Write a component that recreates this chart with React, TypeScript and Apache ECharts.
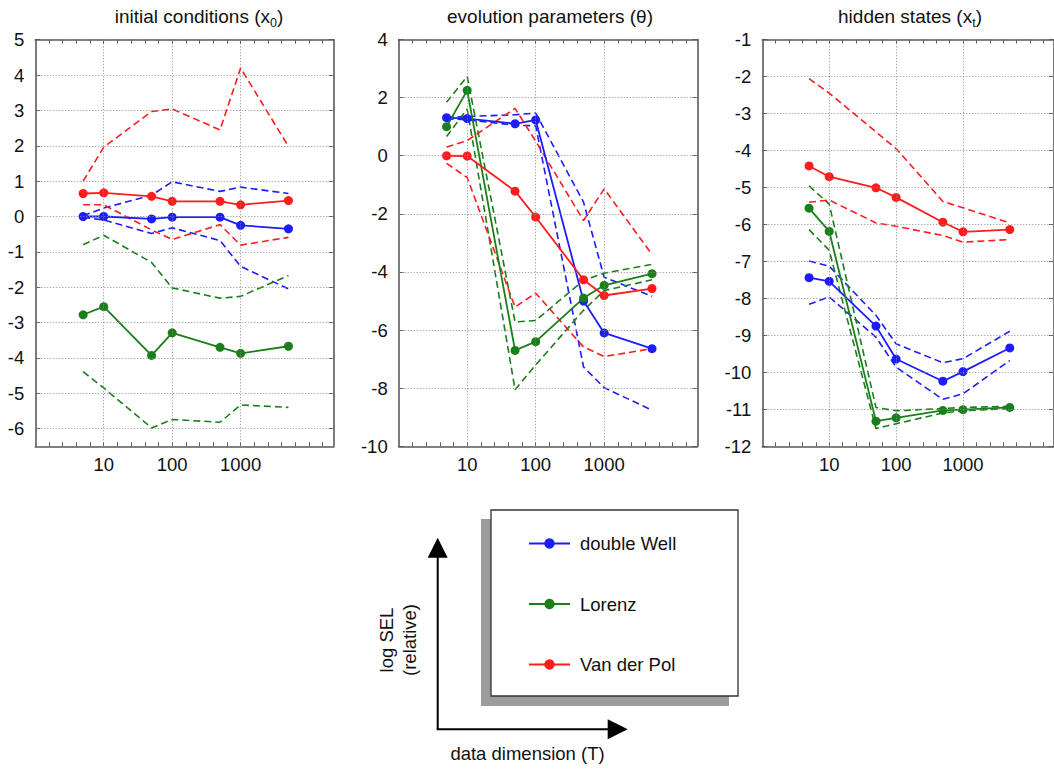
import React, { useEffect, useRef } from "react";
import * as echarts from "echarts";

// ---------- data ----------
const T = [5, 10, 50, 100, 500, 1000, 5000];

// panel 1: initial conditions (x0)
const x0DwMean = [0.0, 0.0, -0.07, -0.02, -0.02, -0.25, -0.35];
const x0DwHi = [0.02, 0.24, 0.6, 0.98, 0.71, 0.83, 0.65];
const x0DwLo = [-0.02, -0.1, -0.48, -0.32, -0.68, -1.41, -2.05];
const x0LzMean = [-2.78, -2.55, -3.93, -3.29, -3.7, -3.87, -3.67];
const x0LzHi = [-0.8, -0.53, -1.3, -2.02, -2.31, -2.26, -1.67];
const x0LzLo = [-4.39, -4.85, -5.98, -5.74, -5.82, -5.33, -5.4];
const x0VdpMean = [0.65, 0.67, 0.57, 0.43, 0.43, 0.33, 0.45];
const x0VdpHi = [1.0, 1.96, 2.97, 3.04, 2.45, 4.2, 1.98];
const x0VdpLo = [0.33, 0.33, -0.38, -0.65, -0.23, -0.81, -0.59];

// panel 2: evolution parameters (theta)
const thDwMean = [1.31, 1.28, 1.1, 1.23, -5.0, -6.1, -6.64];
const thDwHi = [1.33, 1.35, 1.41, 1.47, -1.6, -4.18, -4.84];
const thDwLo = [1.27, 1.24, 1.05, 1.03, -7.27, -7.98, -8.76];
const thLzMean = [1.0, 2.25, -6.7, -6.4, -4.9, -4.46, -4.06];
const thLzHi = [1.84, 2.73, -5.72, -5.67, -4.29, -4.04, -3.74];
const thLzLo = [0.66, 1.61, -8.05, -7.2, -5.32, -4.64, -4.27];
const thVdpMean = [0.0, -0.01, -1.22, -2.11, -4.27, -4.81, -4.57];
const thVdpHi = [0.3, 0.52, 1.63, 0.5, -2.23, -1.14, -3.4];
const thVdpLo = [-0.26, -0.75, -5.21, -4.73, -6.58, -6.91, -6.64];

// panel 3: hidden states (xt)
const xtDwMean = [-7.44, -7.54, -8.75, -9.64, -10.24, -9.98, -9.34];
const xtDwHi = [-6.99, -7.13, -8.46, -9.23, -9.74, -9.63, -8.89];
const xtDwLo = [-8.16, -7.96, -9.05, -9.86, -10.73, -10.58, -9.68];
const xtLzMean = [-5.56, -6.19, -11.32, -11.23, -11.03, -11.01, -10.95];
const xtLzHi = [-4.96, -5.45, -10.95, -11.04, -10.98, -10.95, -10.92];
const xtLzLo = [-6.14, -6.7, -11.52, -11.39, -11.1, -11.04, -10.98];
const xtVdpMean = [-4.42, -4.71, -5.01, -5.27, -5.94, -6.2, -6.14];
const xtVdpHi = [-2.06, -2.45, -3.5, -3.95, -5.38, -5.55, -5.96];
const xtVdpLo = [-5.4, -5.34, -5.96, -6.05, -6.3, -6.48, -6.41];

// axes
const xLabelVals = [1, 2, 3];
const xLabelText = ["10", "100", "1000"];
const xMinorTicks = [0.2, 0.4, 0.6, 0.8, 1, 1.2, 1.4, 1.6, 1.8, 2, 2.2, 2.4, 2.6, 2.8, 3, 3.2, 3.4, 3.6, 3.8, 4, 4.2];
const yTicks1 = [-6, -5, -4, -3, -2, -1, 0, 1, 2, 3, 4, 5];
const yTicks2 = [-10, -8, -6, -4, -2, 0, 2, 4];
const yTicks3 = [-12, -11, -10, -9, -8, -7, -6, -5, -4, -3, -2, -1];

const systems = ["double Well", "Lorenz", "Van der Pol"];
const colors = ["#1c1cff", "#1a7f1a", "#ff1c1c"];

const FONT = "'Liberation Sans', Arial, Helvetica, sans-serif";
const FRAME = "#5a5a5a";

export default function App() {
  const ref = useRef<HTMLDivElement>(null);

  useEffect(() => {
    if (!ref.current) return;
    const chart = echarts.init(ref.current, undefined, { renderer: "svg" });

    const X_MAX = 4.36;
    const panels = [
      {
        grid: { left: 35.3, top: 39.7, width: 298.4, height: 406.6 },
        ymin: -6.5, ymax: 5, yTicks: yTicks1,
        data: [[x0DwMean, x0DwHi, x0DwLo], [x0LzMean, x0LzHi, x0LzLo], [x0VdpMean, x0VdpHi, x0VdpLo]],
      },
      {
        grid: { left: 398.7, top: 39.5, width: 298.6, height: 406.8 },
        ymin: -10, ymax: 4, yTicks: yTicks2,
        data: [[thDwMean, thDwHi, thDwLo], [thLzMean, thLzHi, thLzLo], [thVdpMean, thVdpHi, thVdpLo]],
      },
      {
        grid: { left: 762.3, top: 39.5, width: 298.5, height: 406.8 },
        ymin: -12, ymax: -1, yTicks: yTicks3,
        data: [[xtDwMean, xtDwHi, xtDwLo], [xtLzMean, xtLzHi, xtLzLo], [xtVdpMean, xtVdpHi, xtVdpLo]],
      },
    ];

    const grids: any[] = [];
    const xAxes: any[] = [];
    const yAxes: any[] = [];
    const series: any[] = [];

    const axisLine = { show: true, onZero: false, lineStyle: { color: FRAME, width: 1.6 } };

    panels.forEach((p, i) => {
      grids.push({ ...p.grid, containLabel: false });
      xAxes.push({
        type: "value", gridIndex: i, min: 0, max: X_MAX, position: "bottom",
        axisLine,
        axisTick: { show: true, inside: true, length: 4, customValues: xMinorTicks, lineStyle: { color: FRAME, width: 1 } },
        axisLabel: {
          show: true, customValues: xLabelVals, margin: 9,
          fontSize: 18.5, fontFamily: FONT, color: "#111",
          formatter: (v: number) => { const k = xLabelVals.indexOf(v); return k >= 0 ? xLabelText[k] : ""; },
        },
        splitLine: { show: false },
      });
      xAxes.push({
        type: "value", gridIndex: i, min: 0, max: X_MAX, position: "top",
        axisLine,
        axisTick: { show: true, inside: true, length: 4, customValues: xMinorTicks, lineStyle: { color: FRAME, width: 1 } },
        axisLabel: { show: false },
        splitLine: { show: false },
      });
      yAxes.push({
        type: "value", gridIndex: i, min: p.ymin, max: p.ymax, position: "left",
        axisLine,
        axisTick: { show: true, inside: true, length: 5, customValues: p.yTicks, lineStyle: { color: FRAME, width: 1 } },
        axisLabel: { show: true, customValues: p.yTicks, margin: 11, fontSize: 18.5, fontFamily: FONT, color: "#111" },
        splitLine: { show: false },
      });
      yAxes.push({
        type: "value", gridIndex: i, min: p.ymin, max: p.ymax, position: "right",
        axisLine,
        axisTick: { show: true, inside: true, length: 5, customValues: p.yTicks, lineStyle: { color: FRAME, width: 1 } },
        axisLabel: { show: false },
        splitLine: { show: false },
      });

      const xi = 2 * i;
      const yi = 2 * i;

      series.push({
        type: "line", xAxisIndex: xi, yAxisIndex: yi, data: [], z: 1, silent: true,
        markLine: {
          silent: true, symbol: ["none", "none"], animation: false,
          label: { show: false },
          emphasis: { disabled: true },
          lineStyle: { color: "#8c8c8c", type: [1, 2], width: 1 },
          data: [
            ...xLabelVals.map((v) => ({ xAxis: v })),
            ...p.yTicks.filter((v) => v > p.ymin && v < p.ymax).map((v) => ({ yAxis: v })),
          ],
        },
      });

      p.data.forEach((set, s) => {
        const [mean, hi, lo] = set;
        const pts = (arr: number[]) => T.map((t, k) => [Math.log10(t), arr[k]]);
        [hi, lo].forEach((b, bi) => {
          series.push({
            type: "line", name: systems[s] + (bi === 0 ? " upper" : " lower"),
            xAxisIndex: xi, yAxisIndex: yi, data: pts(b), z: 2, silent: true,
            symbol: "none",
            lineStyle: { color: colors[s], width: 1.6, type: [7, 4] },
            itemStyle: { color: colors[s] },
          });
        });
        series.push({
          type: "line", name: systems[s],
          xAxisIndex: xi, yAxisIndex: yi, data: pts(mean), z: 3, silent: true,
          symbol: "circle", symbolSize: 9,
          lineStyle: { color: colors[s], width: 1.8 },
          itemStyle: { color: colors[s] },
        });
      });
    });

    const titleStyle = (text: string, x: number) => ({
      type: "text", x, y: 3, z: 10,
      style: {
        text, align: "center", verticalAlign: "top",
        rich: {
          a: { fontSize: 19, fontFamily: FONT, fill: "#111", lineHeight: 26 },
          s: { fontSize: 12.5, fontFamily: FONT, fill: "#111", lineHeight: 12, verticalAlign: "bottom" },
        },
      },
    });

    const option: any = {
      animation: false,
      grid: grids,
      xAxis: xAxes,
      yAxis: yAxes,
      series,
      legend: {
        orient: "vertical", left: 523, top: 529,
        itemWidth: 41, itemHeight: 13, itemGap: 41.5,
        selectedMode: false,
        data: systems,
        textStyle: { fontSize: 18.5, fontFamily: FONT, color: "#111", padding: [0, 0, 0, 5] },
      },
      graphic: [
        titleStyle("{a|initial conditions (x}{s|0}{a|)}", 199),
        titleStyle("{a|evolution parameters (θ)}", 550),
        titleStyle("{a|hidden states (x}{s|t}{a|)}", 910),
        { type: "rect", z: 0, shape: { x: 481, y: 519, width: 248, height: 187 }, style: { fill: "#9c9c9c" } },
        { type: "rect", z: 1, shape: { x: 491, y: 510, width: 247, height: 186 }, style: { fill: "#fff", stroke: "#333", lineWidth: 1.3 } },
        { type: "line", shape: { x1: 437.7, y1: 729.3, x2: 437.7, y2: 555 }, style: { stroke: "#000", lineWidth: 2 } },
        { type: "polygon", shape: { points: [[437.7, 537.7], [427.7, 557.7], [447.7, 557.7]] }, style: { fill: "#000" } },
        { type: "line", shape: { x1: 436.7, y1: 729.3, x2: 610, y2: 729.3 }, style: { stroke: "#000", lineWidth: 2 } },
        { type: "polygon", shape: { points: [[627.7, 729.3], [607.7, 719.3], [607.7, 739.3]] }, style: { fill: "#000" } },
        {
          type: "text", x: 398, y: 640, rotation: Math.PI / 2,
          style: { text: "log SEL\n(relative)", align: "center", verticalAlign: "middle", fontSize: 18.5, lineHeight: 23.5, fontFamily: FONT, fill: "#111" },
        },
        {
          type: "text", x: 527.5, y: 753,
          style: { text: "data dimension (T)", align: "center", verticalAlign: "middle", fontSize: 18.5, fontFamily: FONT, fill: "#111" },
        },
      ],
    };

    chart.setOption(option);
    return () => chart.dispose();
  }, []);

  return <div ref={ref} style={{ position: "absolute", left: 0, top: 0, width: 1054, height: 769 }} />;
}
